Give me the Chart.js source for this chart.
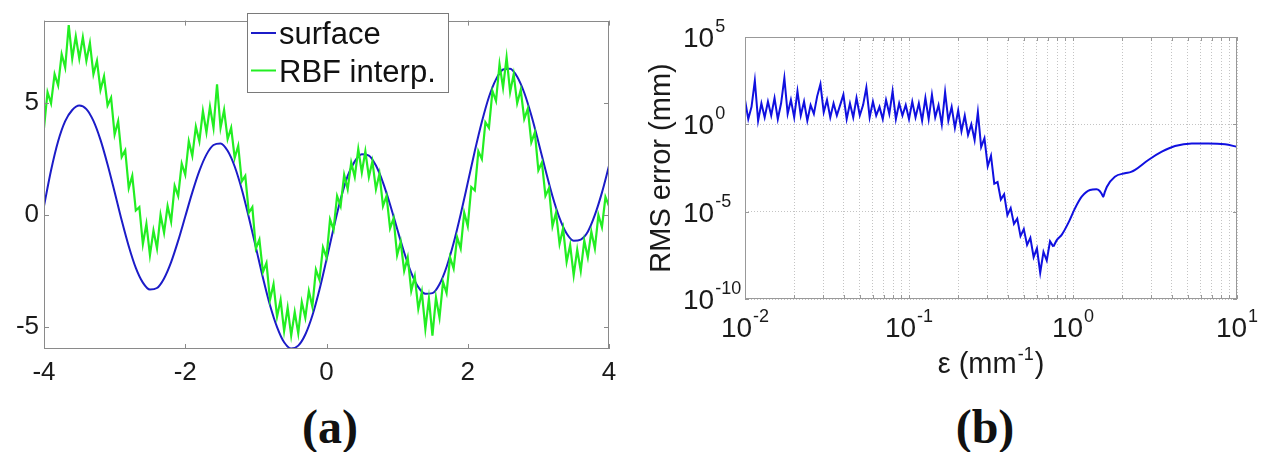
<!DOCTYPE html>
<html>
<head>
<meta charset="utf-8">
<script src="https://cdn.jsdelivr.net/npm/chart.js@4.4.0/dist/chart.umd.min.js"></script>
<style>
    html, body { margin: 0; padding: 0; background: #fff; }
    body { width: 1265px; height: 452px; position: relative; overflow: hidden; }
    #leftBox { position: absolute; left: 0; top: 0; width: 640px; height: 400px; }
    #rightBox { position: absolute; left: 640px; top: 0; width: 625px; height: 400px; }
    .panelTag { position: absolute; top: 403px; width: 100px; text-align: center;
                font: bold 48px/48px "Liberation Serif", "Times New Roman", serif; color: #111; }
</style>
</head>
<body>
<div id="leftBox"><canvas id="leftChart" width="640" height="400"></canvas></div>
<div id="rightBox"><canvas id="rightChart" width="625" height="400"></canvas></div>
<div class="panelTag" style="left:280px">(a)</div>
<div class="panelTag" style="left:935px">(b)</div>
<script>
// ---- panel (a): surface vs RBF interpolation ----
const surfX = [-4, -3.9, -3.8, -3.7, -3.6, -3.5, -3.4, -3.3, -3.2, -3.1,
    -3, -2.9, -2.8, -2.7, -2.6, -2.5, -2.4, -2.3, -2.2, -2.1,
    -2, -1.9, -1.8, -1.7, -1.6, -1.5, -1.4, -1.3, -1.2, -1.1,
    -1, -0.9, -0.8, -0.7, -0.6, -0.5, -0.4, -0.3, -0.2, -0.1,
    0, 0.1, 0.2, 0.3, 0.4, 0.5, 0.6, 0.7, 0.8, 0.9,
    1, 1.1, 1.2, 1.3, 1.4, 1.5, 1.6, 1.7, 1.8, 1.9,
    2, 2.1, 2.2, 2.3, 2.4, 2.5, 2.6, 2.7, 2.8, 2.9,
    3, 3.1, 3.2, 3.3, 3.4, 3.5, 3.6, 3.7, 3.8, 3.9, 4];
const surfY = [0.4, 2.0, 3.3, 4.2, 4.7, 4.9, 4.74, 4.21, 3.36, 2.26,
    1.03, -0.24, -1.4, -2.37, -3.03, -3.34, -3.27, -2.84, -2.11, -1.15,
    -0.07, 1.01, 1.97, 2.7, 3.13, 3.2, 2.87, 2.17, 1.15, -0.1,
    -1.45, -2.81, -4.04, -5.02, -5.7, -5.98, -5.85, -5.35, -4.5, -3.35,
    -2.0, -0.6, 0.7, 1.75, 2.4, 2.72, 2.66, 2.21, 1.45, 0.47,
    -0.62, -1.68, -2.59, -3.23, -3.53, -3.5, -3.1, -2.33, -1.26, 0.03,
    1.44, 2.86, 4.17, 5.28, 6.07, 6.51, 6.55, 6.19, 5.47, 4.46,
    3.27, 2.02, 0.84, -0.14, -0.83, -1.15, -1.1, -0.75, 0.0, 1.0, 2.2];

const rbfX = [-4, -3.95, -3.9, -3.85, -3.8, -3.75, -3.7, -3.65, -3.6, -3.55,
    -3.5, -3.45, -3.4, -3.35, -3.3, -3.25, -3.2, -3.15, -3.1, -3.05,
    -3, -2.95, -2.9, -2.85, -2.8, -2.75, -2.7, -2.65, -2.6, -2.55,
    -2.5, -2.45, -2.4, -2.35, -2.3, -2.25, -2.2, -2.15, -2.1, -2.05,
    -2, -1.95, -1.9, -1.85, -1.8, -1.75, -1.7, -1.65, -1.6, -1.55,
    -1.5, -1.45, -1.4, -1.35, -1.3, -1.25, -1.2, -1.15, -1.1, -1.05,
    -1, -0.95, -0.9, -0.85, -0.8, -0.75, -0.7, -0.65, -0.6, -0.55,
    -0.5, -0.45, -0.4, -0.35, -0.3, -0.25, -0.2, -0.15, -0.1, -0.05,
    0, 0.05, 0.1, 0.15, 0.2, 0.25, 0.3, 0.35, 0.4, 0.45,
    0.5, 0.55, 0.6, 0.65, 0.7, 0.75, 0.8, 0.85, 0.9, 0.95,
    1, 1.05, 1.1, 1.15, 1.2, 1.25, 1.3, 1.35, 1.4, 1.45,
    1.5, 1.55, 1.6, 1.65, 1.7, 1.75, 1.8, 1.85, 1.9, 1.95,
    2, 2.05, 2.1, 2.15, 2.2, 2.25, 2.3, 2.35, 2.4, 2.45,
    2.5, 2.55, 2.6, 2.65, 2.7, 2.75, 2.8, 2.85, 2.9, 2.95,
    3, 3.05, 3.1, 3.15, 3.2, 3.25, 3.3, 3.35, 3.4, 3.45,
    3.5, 3.55, 3.6, 3.65, 3.7, 3.75, 3.8, 3.85, 3.9, 3.95, 4];
const rbfY = [3.9, 5.5, 5.0, 6.3, 5.8, 7.2, 6.6, 8.5, 7.0, 8.0,
    7.0, 7.95, 6.9, 7.7, 6.3, 6.9, 5.6, 6.2, 4.9, 5.25,
    3.6, 4.2, 2.6, 2.9, 1.2, 1.75, 0.2, 0.35, -1.3, -0.4,
    -1.8, -0.7, -1.5, 0.0, -0.8, 0.4, -0.3, 1.3, 0.85, 2.3,
    1.8, 3.3, 2.65, 3.95, 3.3, 4.65, 3.7, 4.85, 3.9, 5.85,
    3.9, 4.7, 3.4, 3.9, 2.55, 3.1, 1.5, 1.75, 0.1, 0.35,
    -1.5, -1.1, -2.55, -2.15, -3.8, -3.1, -4.55, -3.8, -5.2, -4.15,
    -5.4, -4.35, -5.3, -3.9, -4.6, -3.4, -4.1, -2.45, -2.9, -1.45,
    -1.9, -0.2, -0.65, 0.85, 0.4, 1.8, 1.15, 2.35, 1.7, 2.95,
    1.9, 2.85, 1.7, 2.4, 1.15, 1.85, 0.4, 0.85, -0.6, -0.15,
    -1.8, -1.2, -2.5, -1.9, -3.4, -2.75, -4.2, -3.45, -5.1, -3.75,
    -5.4, -3.7, -4.6, -3.0, -3.5, -1.9, -2.4, -1.0, -1.5, 0.1,
    -0.5, 1.25, 1.1, 2.85, 2.5, 4.15, 3.9, 5.55, 5.1, 6.75,
    5.7, 7.05, 5.5, 6.3, 5.0, 5.6, 4.3, 4.75, 3.25, 3.7,
    2.0, 2.35, 0.85, 1.2, -0.5, 0.1, -1.3, -0.6, -2.1, -1.35,
    -2.7, -1.55, -2.5, -1.15, -1.9, -0.75, -1.5, 0.0, -0.55, 0.8, 0.4];

const leftXTicks = [-4, -2, 0, 2, 4];
const leftYTicks = [-5, 0, 5];

// ---- panel (b): RMS error vs shape parameter ----
const epsVals = [0.01, 0.01047, 0.01096, 0.01148, 0.01202, 0.01259, 0.01318, 0.0138, 0.01445, 0.01514,
    0.01585, 0.0166, 0.01738, 0.0182, 0.01905, 0.01995, 0.02089, 0.02188, 0.02291, 0.02399,
    0.02512, 0.0263, 0.02754, 0.02884, 0.0302, 0.03162, 0.03311, 0.03467, 0.03631, 0.03802,
    0.03981, 0.04169, 0.04365, 0.04571, 0.04786, 0.05012, 0.05248, 0.05495, 0.05754, 0.06026,
    0.0631, 0.06607, 0.06918, 0.07244, 0.07586, 0.07943, 0.08318, 0.0871, 0.0912, 0.0955,
    0.1, 0.1047, 0.1096, 0.1148, 0.1202, 0.1259, 0.1318, 0.138, 0.1445, 0.1514,
    0.1585, 0.166, 0.1738, 0.182, 0.1905, 0.1995, 0.2089, 0.2188, 0.2291, 0.2399,
    0.2512, 0.263, 0.2754, 0.2884, 0.302, 0.3162, 0.3311, 0.3467, 0.3631, 0.3802,
    0.3981, 0.4169, 0.4365, 0.4571, 0.4786, 0.5012, 0.5248, 0.5495, 0.5754, 0.6026,
    0.631, 0.6607, 0.6918, 0.7244, 0.7586,
    0.8, 0.853, 0.935, 1.03, 1.13, 1.27, 1.39, 1.45, 1.5, 1.53,
    1.56, 1.61, 1.8, 2.07, 2.26, 2.39, 2.88, 3.48, 4.19, 5.3,
    6.69, 8.45, 10];
const rmsVals = [25, 2, 10, 316, 1.6, 16, 2.5, 20, 3.2, 32,
    2, 16, 450, 4, 25, 2.5, 79, 3.2, 20, 1.6,
    12.6, 4, 40, 200, 5, 25, 2.5, 16, 3.2, 12.6,
    50, 2, 16, 2.5, 32, 3.2, 12.6, 126, 2.5, 20,
    3.2, 10, 2, 25, 4, 79, 2, 16, 3.2, 12.6,
    2, 20, 2.5, 16, 1.6, 32, 2, 50, 2.5, 12.6,
    1, 71, 1.6, 10, 0.63, 6.3, 0.4, 3.2, 0.25, 1,
    0.126, 5, 0.05, 0.16, 0.004, 0.016, 4e-4, 5e-4, 5e-5, 1e-4,
    6.3e-6, 1.6e-5, 2e-6, 4e-6, 4e-7, 1e-6, 1.26e-7, 3.2e-7, 2.5e-8, 8e-8,
    3.2e-9, 5e-8, 1.6e-8, 2e-7, 1e-7,
    2.5e-7, 4.7e-7, 2.2e-6, 1.6e-5, 7.2e-5, 1.74e-4, 1.9e-4, 1.58e-4, 1e-4, 7.1e-5,
    1.26e-4, 2.7e-4, 1e-3, 1.58e-3, 1.9e-3, 2.45e-3, 9.1e-3, 2.7e-2, 5.75e-2, 8.1e-2,
    8.1e-2, 7.2e-2, 5.2e-2];
// the noisy part ends here, after it the curve is smooth
const noisyCount = 95;

const rightXTicks = [0.01, 0.02, 0.03, 0.04, 0.05, 0.06, 0.07, 0.08, 0.09,
    0.1, 0.2, 0.3, 0.4, 0.5, 0.6, 0.7, 0.8, 0.9,
    1, 2, 3, 4, 5, 6, 7, 8, 9, 10];
const rightXLabels = [0.01, 0.1, 1, 10];
const rightYTicks = [1e-10, 1e-5, 1, 1e5];

const FONT = '"Liberation Sans", Arial, sans-serif';
Chart.defaults.font.family = FONT;
Chart.defaults.color = '#1a1a1a';

function toPoints(xs, ys) {
    return xs.map((x, i) => ({ x: x, y: ys[i] }));
}

function setTicks(values) {
    return function (scale) {
        scale.ticks = values.map(v => ({ value: v }));
    };
}

// box around the plot area with small inward tick marks (matlab style)
const framePlugin = {
    id: 'frame',
    afterDatasetsDraw(chart, args, opts) {
        const { ctx, chartArea: a, scales } = chart;
        const len = opts.tickLen;
        ctx.save();
        ctx.strokeStyle = opts.color;
        ctx.lineWidth = 1;
        ctx.beginPath();
        scales.x.ticks.forEach(t => {
            const px = Math.round(scales.x.getPixelForValue(t.value)) + 0.5;
            ctx.moveTo(px, a.bottom); ctx.lineTo(px, a.bottom - len);
            ctx.moveTo(px, a.top); ctx.lineTo(px, a.top + len);
        });
        scales.y.ticks.forEach(t => {
            const py = Math.round(scales.y.getPixelForValue(t.value)) + 0.5;
            ctx.moveTo(a.left, py); ctx.lineTo(a.left + len, py);
            ctx.moveTo(a.right, py); ctx.lineTo(a.right - len, py);
        });
        ctx.stroke();
        ctx.strokeRect(Math.round(a.left) + 0.5, Math.round(a.top) + 0.5,
            Math.round(a.right - a.left) - 1, Math.round(a.bottom - a.top) - 1);
        ctx.restore();
    }
};

// legend drawn as a boxed inset in the upper middle of the plot
const legendBox = {
    id: 'legendBox',
    afterDraw(chart, args, opts) {
        const ctx = chart.ctx;
        ctx.save();
        ctx.fillStyle = '#fff';
        ctx.fillRect(opts.left, opts.top, opts.width, opts.height);
        ctx.strokeStyle = '#7a7a7a';
        ctx.lineWidth = 1;
        ctx.strokeRect(opts.left + 0.5, opts.top + 0.5, opts.width, opts.height);
        ctx.font = '31px ' + FONT;
        ctx.textBaseline = 'alphabetic';
        chart.data.datasets.forEach((ds, i) => {
            const y = opts.top + opts.firstRow + i * opts.rowGap;
            ctx.strokeStyle = ds.borderColor;
            ctx.lineWidth = 2;
            ctx.beginPath();
            ctx.moveTo(opts.left + 4, y);
            ctx.lineTo(opts.left + 29, y);
            ctx.stroke();
            ctx.fillStyle = '#111';
            ctx.fillText(ds.label, opts.left + 32, y + 11);
        });
        ctx.restore();
    }
};

// "10" with a raised exponent
function drawPow(ctx, x, y, value, align) {
    const exp = String(Math.round(Math.log10(value)));
    ctx.font = '28px ' + FONT;
    const w1 = ctx.measureText('10').width;
    ctx.font = '18px ' + FONT;
    const w2 = ctx.measureText(exp).width;
    const x0 = align === 'center' ? x - (w1 + w2 + 1) / 2 : x;
    ctx.font = '28px ' + FONT;
    ctx.fillText('10', x0, y);
    ctx.font = '18px ' + FONT;
    ctx.fillText(exp, x0 + w1 + 1, y - 15);
}

const powLabels = {
    id: 'powLabels',
    afterDraw(chart) {
        const { ctx, chartArea: a, scales } = chart;
        ctx.save();
        ctx.fillStyle = '#1a1a1a';
        ctx.textAlign = 'left';
        ctx.textBaseline = 'alphabetic';
        rightXLabels.forEach(v => {
            drawPow(ctx, scales.x.getPixelForValue(v), a.bottom + 38, v, 'center');
        });
        rightYTicks.forEach(v => {
            drawPow(ctx, 43, scales.y.getPixelForValue(v) + 10, v, 'left');
        });

        // x title: ε (mm^-1)
        const big = '29px ' + FONT, small = '18px ' + FONT;
        ctx.font = big;
        const wa = ctx.measureText('ε (mm').width;
        const wc = ctx.measureText(')').width;
        ctx.font = small;
        const wb = ctx.measureText('-1').width;
        let x = (a.left + a.right) / 2 - (wa + wb + wc + 2) / 2;
        const y = a.bottom + 74;
        ctx.font = big;
        ctx.fillText('ε (mm', x, y);
        ctx.font = small;
        ctx.fillText('-1', x + wa + 1, y - 13);
        ctx.font = big;
        ctx.fillText(')', x + wa + wb + 2, y);
        ctx.restore();
    }
};

function createLeftChart() {
    const ctx = document.getElementById('leftChart').getContext('2d');
    return new Chart(ctx, {
        type: 'line',
        data: {
            datasets: [{
                label: 'surface',
                data: toPoints(surfX, surfY),
                borderColor: '#1c1cc8',
                borderWidth: 2,
                pointRadius: 0,
                cubicInterpolationMode: 'monotone',
                order: 2
            }, {
                label: 'RBF interp.',
                data: toPoints(rbfX, rbfY),
                borderColor: '#22ee22',
                borderWidth: 2.2,
                pointRadius: 0,
                tension: 0,
                order: 1
            }]
        },
        options: {
            responsive: false,
            animation: false,
            devicePixelRatio: 1,
            layout: { padding: { top: 14, right: 31, left: 0, bottom: 0 } },
            scales: {
                x: {
                    type: 'linear',
                    min: -4, max: 4,
                    afterBuildTicks: setTicks(leftXTicks),
                    afterFit: s => { s.height = 51; },
                    grid: { display: false, drawTicks: false },
                    border: { display: false },
                    ticks: { font: { size: 26 }, padding: 8, color: '#1a1a1a' }
                },
                y: {
                    type: 'linear',
                    min: -6, max: 8.7,
                    afterBuildTicks: setTicks(leftYTicks),
                    afterFit: s => { s.width = 44; },
                    grid: { display: false, drawTicks: false },
                    border: { display: false },
                    ticks: { font: { size: 26 }, padding: 5, color: '#1a1a1a' }
                }
            },
            plugins: {
                legend: { display: false },
                tooltip: { enabled: false },
                frame: { color: '#8a8a8a', tickLen: 5 },
                legendBox: { left: 247, top: 13, width: 201, height: 79, firstRow: 20, rowGap: 37.5 }
            }
        },
        plugins: [framePlugin, legendBox]
    });
}

function createRightChart() {
    const ctx = document.getElementById('rightChart').getContext('2d');
    const pts = toPoints(epsVals, rmsVals);
    return new Chart(ctx, {
        type: 'line',
        data: {
            datasets: [{
                // jagged part, straight segments
                label: 'RMS error',
                data: pts.slice(0, noisyCount),
                borderColor: '#1010e0',
                borderWidth: 2,
                pointRadius: 0,
                tension: 0
            }, {
                // smooth tail
                label: 'RMS error (smooth)',
                data: pts.slice(noisyCount - 1),
                borderColor: '#1010e0',
                borderWidth: 2,
                pointRadius: 0,
                cubicInterpolationMode: 'monotone'
            }]
        },
        options: {
            responsive: false,
            animation: false,
            devicePixelRatio: 1,
            layout: { padding: { top: 37, right: 28, left: 0, bottom: 0 } },
            scales: {
                x: {
                    type: 'logarithmic',
                    min: 0.01, max: 10,
                    afterBuildTicks: setTicks(rightXTicks),
                    afterFit: s => { s.height = 101; },
                    grid: { color: '#c4c4c4', lineWidth: 1, drawTicks: false },
                    border: { display: false, dash: [1, 2] },
                    ticks: { display: false }
                },
                y: {
                    type: 'logarithmic',
                    min: 1e-10, max: 1e5,
                    afterBuildTicks: setTicks(rightYTicks),
                    afterFit: s => { s.width = 105; },
                    grid: { color: '#c4c4c4', lineWidth: 1, drawTicks: false },
                    border: { display: false, dash: [1, 2] },
                    ticks: { display: false },
                    title: {
                        display: true,
                        text: 'RMS error (mm)',
                        font: { size: 29 },
                        color: '#1a1a1a',
                        padding: { top: 5, bottom: 0 }
                    }
                }
            },
            plugins: {
                legend: { display: false },
                tooltip: { enabled: false },
                frame: { color: '#999', tickLen: 4 }
            }
        },
        plugins: [framePlugin, powLabels]
    });
}

createLeftChart();
createRightChart();
</script>
</body>
</html>
